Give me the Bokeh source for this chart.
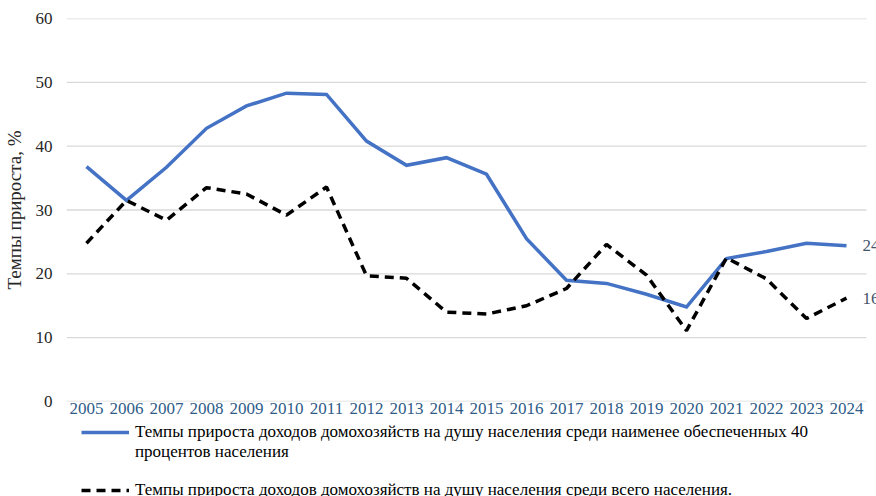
from bokeh.plotting import figure
from bokeh.layouts import column
from bokeh.models import Range1d, FixedTicker, Legend, LegendItem, Label
from bokeh.embed import file_html
from bokeh.resources import INLINE

years = list(range(2005, 2025))
poor40 = [36.8, 31.5, 36.7, 42.8, 46.3, 48.3, 48.1, 40.8, 37.0, 38.2,
          35.6, 25.5, 19.0, 18.5, 16.8, 14.8, 22.4, 23.5, 24.8, 24.4]
total = [24.8, 31.5, 28.4, 33.5, 32.5, 29.2, 33.6, 19.7, 19.3, 14.0,
         13.7, 15.0, 17.7, 24.6, 19.8, 11.1, 22.5, 19.2, 13.0, 16.2]
y_ticks = [0, 10, 20, 30, 40, 50, 60]
label_poor = "Темпы прироста доходов домохозяйств на душу населения среди наименее обеспеченных 40"
label_poor2 = "процентов населения"
label_total = "Темпы прироста доходов домохозяйств на душу населения среди всего населения."
y_title = "Темпы прироста, %"

FONT = "Liberation Serif"
BLUE = "#4472C4"
GRID = "#D9D9D9"

x_lo, x_hi = years[0] - 0.5, years[-1] + 0.5
p = figure(width=876, height=422, output_backend="svg", toolbar_location=None,
           x_range=Range1d(x_lo, x_hi + 0.25), y_range=Range1d(0, 60),
           min_border_left=65, min_border_right=0, min_border_top=18,
           min_border_bottom=21)
p.outline_line_color = None
p.background_fill_color = "white"
p.border_fill_color = "white"

p.xgrid.grid_line_color = None
p.ygrid.grid_line_color = None
p.segment(x0=[x_lo] * len(y_ticks), x1=[x_hi] * len(y_ticks), y0=y_ticks, y1=y_ticks,
          line_color=GRID, line_width=1.3, level="underlay")

p.xaxis.ticker = FixedTicker(ticks=years)
p.yaxis.ticker = FixedTicker(ticks=y_ticks)
for ax in (p.xaxis, p.yaxis):
    ax.axis_line_color = None
    ax.major_tick_line_color = None
    ax.minor_tick_line_color = None
    ax.major_tick_out = 0
    ax.major_tick_in = 0
    ax.minor_tick_out = 0
    ax.major_label_text_font = FONT
    ax.major_label_text_font_size = "17px"
p.xaxis.major_label_text_color = "#2E5C8A"
p.xaxis.major_label_standoff = 1
p.yaxis.major_label_text_color = "#262626"
p.yaxis.major_label_standoff = 14
p.yaxis.axis_label = y_title
p.yaxis.axis_label_text_font = FONT
p.yaxis.axis_label_text_font_size = "19px"
p.yaxis.axis_label_text_font_style = "normal"
p.yaxis.axis_label_text_color = "#262626"
p.yaxis.axis_label_standoff = 8

p.line(years, poor40, line_color=BLUE, line_width=3.5, line_join="miter")
p.line(years, total, line_color="black", line_width=3.5, line_dash="9 6")

for series in (poor40, total):
    p.add_layout(Label(x=years[-1], y=series[-1], text=str(int(round(series[-1]))),
                       x_offset=16, text_baseline="middle", text_color="#44546A",
                       text_font=FONT, text_font_size="17px"))

# legend strip below the chart (its proxy lines lie outside its own view)
lg = figure(width=876, height=74, output_backend="svg", toolbar_location=None,
            x_range=Range1d(0, 1), y_range=Range1d(0, 1), min_border=0)
lg.axis.visible = False
lg.grid.visible = False
lg.outline_line_color = None
lg.border_fill_color = "white"
k1 = lg.line(years, poor40, line_color=BLUE, line_width=3.5)
k2 = lg.line(years, total, line_color="black", line_width=3.5, line_dash="9 6")

legend = Legend(items=[
    LegendItem(label=label_poor, renderers=[k1]),
    LegendItem(label=label_poor2, renderers=[]),
    LegendItem(label=" ", renderers=[]),
    LegendItem(label=label_total, renderers=[k2]),
], location=(15, -4), orientation="vertical", glyph_width=48, glyph_height=18,
   label_height=18, label_standoff=6, spacing=0, padding=0, margin=0,
   label_text_font=FONT, label_text_font_size="17px", label_text_color="black",
   border_line_color=None, background_fill_alpha=0)
lg.add_layout(legend, "center")

layout = column(p, lg, spacing=0)
open("out.html", "w").write(file_html(layout, INLINE))
